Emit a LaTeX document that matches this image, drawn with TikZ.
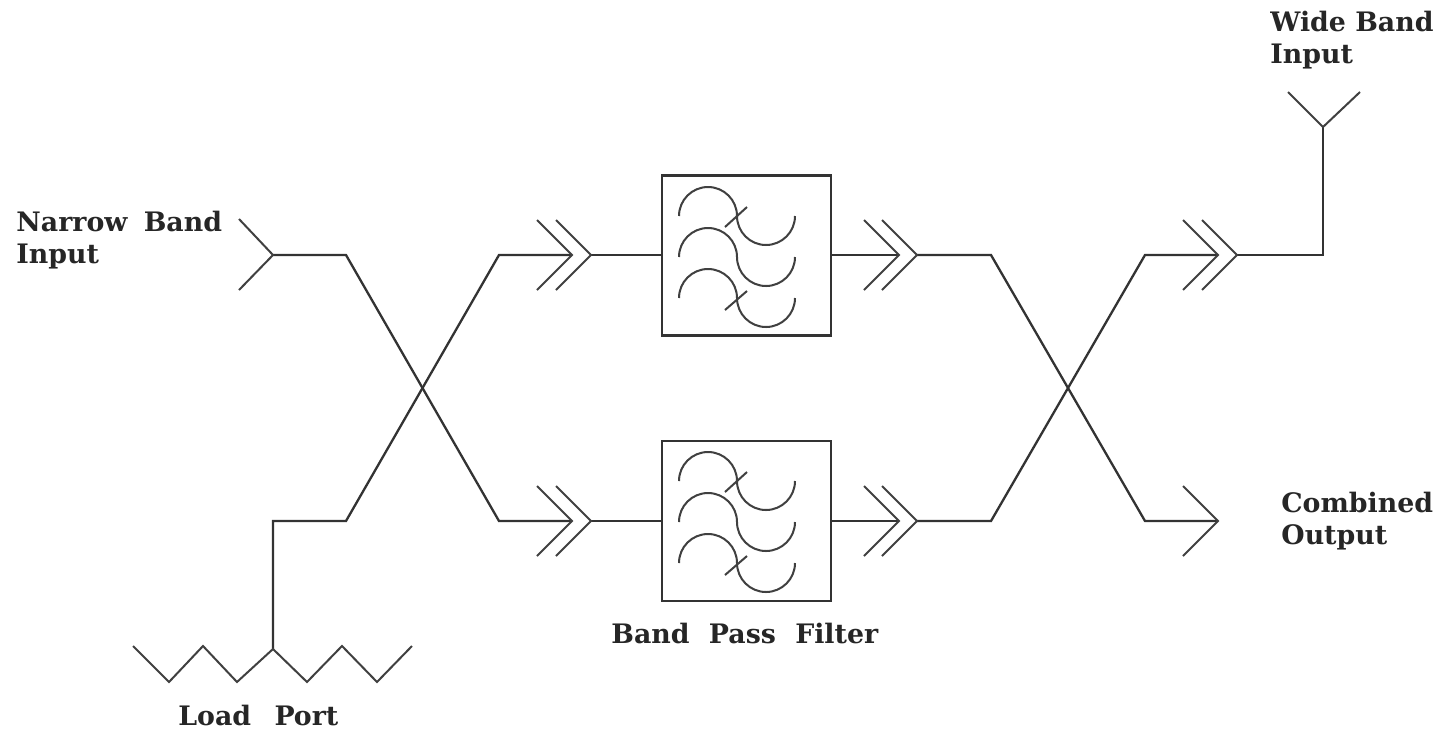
\documentclass[tikz,border=0pt]{standalone}
\usepackage{fontspec}
\setmainfont{DejaVu Serif}
\tikzset{
  wire/.style={draw=black!80,line width=1.15pt,line join=miter},
  thin wire/.style={draw=black!75,line width=1pt,line join=miter},
  filterbox/.style={draw=black!80,line width=1.2pt,fill=white,minimum width=84.5pt,minimum height=80pt,inner sep=0pt},
  lbl/.style={font=\fontsize{13.4}{15.7}\selectfont\bfseries,text=black!85,inner sep=0pt,anchor=north west,align=left},
}
\newcommand{\chevron}[2]{% tip x, y
  \draw[thin wire] (#1-35,#2-35) -- (#1,#2) -- (#1-35,#2+35);
}
\newcommand{\wiggles}[1]{% vertical offset of the filter
  \foreach \d in {0,41,82}{
    \draw[thin wire] (679,#1+\d+216) .. controls (679,#1+\d+200) and (692,#1+\d+187) .. (708,#1+\d+187)
      .. controls (724,#1+\d+187) and (737,#1+\d+200) .. (737,#1+\d+216)
      .. controls (737,#1+\d+232) and (750,#1+\d+245) .. (766,#1+\d+245)
      .. controls (782,#1+\d+245) and (795,#1+\d+232) .. (795,#1+\d+216);
  }
  \draw[thin wire] (725,#1+227) -- (747,#1+207);
  \draw[thin wire] (725,#1+310) -- (747,#1+291);
}
\begin{document}
\begin{tikzpicture}[x=0.5pt,y=-0.5pt]
\useasboundingbox (0,0) rectangle (1441,730);
% filters
\node[filterbox] (f1) at (746.5,255.5) {};
\node[filterbox] (f2) at (746.5,521) {};
\wiggles{0}
\wiggles{265}
% junction points
\coordinate (nb) at (273,255);
\coordinate (nb2) at (346,255);
\coordinate (a1) at (499,521);
\coordinate (a1t) at (572,521);
\coordinate (a1o) at (591,521);
\coordinate (lp) at (273,649);
\coordinate (lp1) at (273,521);
\coordinate (lp2) at (346,521);
\coordinate (b1) at (499,255);
\coordinate (b1t) at (572,255);
\coordinate (b1o) at (591,255);
\coordinate (c1t) at (899,255);
\coordinate (c1o) at (917,255);
\coordinate (c2t) at (899,521);
\coordinate (c2o) at (917,521);
\coordinate (d1) at (991,255);
\coordinate (d2) at (1145,521);
\coordinate (out) at (1218,521);
\coordinate (e1) at (991,521);
\coordinate (e2) at (1145,255);
\coordinate (e3) at (1218,255);
\coordinate (e4) at (1237,255);
\coordinate (w1) at (1323,255);
\coordinate (w2) at (1323,127);
% connectors
\draw[wire] (nb) -- (nb2) -- (a1) -- (a1t);
\draw[wire] (lp) -- (lp1) -- (lp2) -- (b1) -- (b1t);
\draw[wire] (b1o) -- (b1o -| f1.west);
\draw[wire] (a1o) -- (a1o -| f2.west);
\draw[wire] (c1t -| f1.east) -- (c1t);
\draw[wire] (c2t -| f2.east) -- (c2t);
\draw[wire] (c1o) -- (d1) -- (d2) -- (out);
\draw[wire] (c2o) -- (e1) -- (e2) -- (e3);
\draw[wire] (e4) -- (w1) -- (w2);
% chevrons
\foreach \x in {572,591,899,917,1218,1237}{\chevron{\x}{255}}
\foreach \x in {572,591,899,917,1218}{\chevron{\x}{521}}
% antenna forks
\draw[thin wire] (239,219) -- (nb) -- (239,290);
\draw[thin wire] (1288,92) -- (w2) -- (1360,92);
% load
\coordinate (z0) at (133,646);
\coordinate (z1) at (169,682);
\coordinate (z2) at (203,646);
\coordinate (z3) at (237,682);
\coordinate (z5) at (307,682);
\coordinate (z6) at (342,646);
\coordinate (z7) at (377,682);
\coordinate (z8) at (412,646);
\draw[thin wire] (z0) -- (z1) -- (z2) -- (z3) -- (lp) -- (z5) -- (z6) -- (z7) -- (z8);
% labels
\node[lbl] (narrow) at (16,211) {Narrow\hspace{3.5pt} Band\\Input};
\node[lbl] (wide) at (1270,11) {Wide Band\\Input};
\node[lbl] (combined) at (1281,492) {Combined\\Output};
\node[lbl] (bpf) at (611,623) {Band\hspace{5pt} Pass\hspace{5pt} Filter};
\node[lbl] (load) at (178,705) {Load\hspace{7pt} Port};
\end{tikzpicture}
\end{document}
